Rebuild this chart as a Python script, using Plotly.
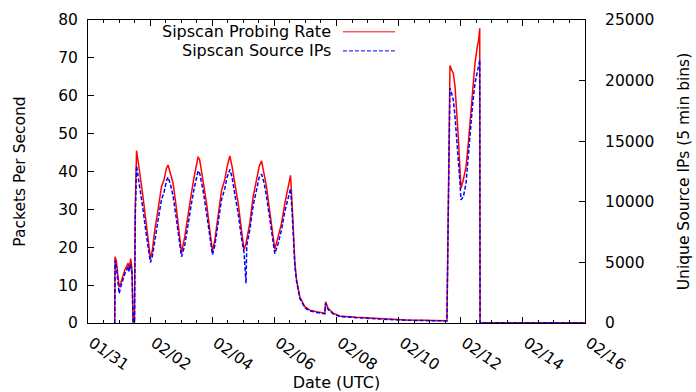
import plotly.graph_objects as go

times = [
    "2011-01-31 20:40", "2011-01-31 20:55", "2011-01-31 21:50", "2011-01-31 23:00",
    "2011-02-01 00:05", "2011-02-01 01:15", "2011-02-01 02:50", "2011-02-01 04:25",
    "2011-02-01 05:55", "2011-02-01 06:55", "2011-02-01 07:50", "2011-02-01 09:00",
    "2011-02-01 10:00", "2011-02-01 10:50", "2011-02-01 11:55", "2011-02-01 12:30",
    "2011-02-01 13:30", "2011-02-01 14:40", "2011-02-01 16:00", "2011-02-01 18:30",
    "2011-02-01 21:10", "2011-02-01 22:55", "2011-02-02 00:15", "2011-02-02 01:40",
    "2011-02-02 03:35", "2011-02-02 06:05", "2011-02-02 08:45", "2011-02-02 10:45",
    "2011-02-02 12:35", "2011-02-02 13:50", "2011-02-02 15:45", "2011-02-02 17:45",
    "2011-02-02 19:50", "2011-02-02 22:10", "2011-02-03 00:15", "2011-02-03 02:45",
    "2011-02-03 05:20", "2011-02-03 07:55", "2011-02-03 10:00", "2011-02-03 11:50",
    "2011-02-03 13:05", "2011-02-03 14:20", "2011-02-03 16:55", "2011-02-03 19:35",
    "2011-02-03 22:05", "2011-02-04 00:10", "2011-02-04 02:00", "2011-02-04 04:30",
    "2011-02-04 07:10", "2011-02-04 09:40", "2011-02-04 11:30", "2011-02-04 13:35",
    "2011-02-04 15:20", "2011-02-04 17:25", "2011-02-04 20:00", "2011-02-04 22:35",
    "2011-02-05 00:35", "2011-02-05 02:05", "2011-02-05 02:40", "2011-02-05 05:00",
    "2011-02-05 07:35", "2011-02-05 10:10", "2011-02-05 12:15", "2011-02-05 14:05",
    "2011-02-05 16:05", "2011-02-05 17:55", "2011-02-05 19:55", "2011-02-05 22:35",
    "2011-02-06 00:20", "2011-02-06 02:55", "2011-02-06 05:30", "2011-02-06 08:05",
    "2011-02-06 10:40", "2011-02-06 12:30", "2011-02-06 13:55", "2011-02-06 15:50",
    "2011-02-06 17:10", "2011-02-06 19:40", "2011-02-06 23:30", "2011-02-07 03:25",
    "2011-02-07 08:35", "2011-02-07 15:00", "2011-02-07 15:35", "2011-02-07 17:30",
    "2011-02-07 21:25", "2011-02-08 02:35", "2011-02-08 15:30", "2011-02-09 04:20",
    "2011-02-09 17:15", "2011-02-10 06:10", "2011-02-10 19:00", "2011-02-11 13:20",
    "2011-02-11 14:20", "2011-02-11 15:40", "2011-02-11 17:00", "2011-02-11 18:15",
    "2011-02-11 19:35", "2011-02-11 20:50", "2011-02-11 22:05", "2011-02-11 23:25",
    "2011-02-12 00:10", "2011-02-12 02:00", "2011-02-12 04:05", "2011-02-12 05:50",
    "2011-02-12 07:40", "2011-02-12 09:15", "2011-02-12 11:00", "2011-02-12 12:45",
    "2011-02-12 13:50", "2011-02-12 14:40", "2011-02-12 14:55", "2011-02-16 00:00",
]

probing_rate = [  # packets per second
    0, 17.5, 16.5, 12, 9.5, 10.5, 12.5, 14, 15, 15.8, 14.5, 17,
    14, 0.3, 0.3, 30, 45.5, 43, 39.6, 33.3, 25.4, 20, 17, 19,
    24.5, 29.8, 36, 37.8, 40.8, 41.7, 39.6, 36.9, 31.6, 24.5, 18.5, 22.8,
    29, 34.3, 38.6, 42.2, 43.9, 43, 37.8, 31.7, 24.5, 19, 21.9, 28,
    35, 37.8, 41.3, 44.1, 41.3, 36.9, 31.7, 24.5, 19.3, 21, 22, 26.3,
    33.3, 37.8, 41.3, 42.8, 39.5, 36, 30.7, 23.7, 19.5, 22.8, 26.3, 31.6,
    36, 39, 30, 15.8, 11.4, 6.9, 4.3, 3.4, 3.0, 2.6, 5.6, 3.9,
    2.6, 1.85, 1.5, 1.23, 0.97, 0.79, 0.7, 0.6, 29, 68, 66.8, 65.9,
    62.4, 56.2, 49.2, 40.4, 35.6, 37.8, 41.3, 47.4, 55.4, 62.4, 68.6, 72.9,
    74.7, 77.8, 0.1, 0.05,
]

source_ips = [  # unique source IPs per 5-min bin
    0, 5160, 4690, 3440, 2440, 2970, 3590, 4060, 4380, 4690, 4220, 4840,
    4060, 90, 90, 8750, 12970, 12190, 11250, 9380, 7190, 5780, 5000, 5470,
    6880, 8440, 10160, 10780, 11720, 12030, 11410, 10470, 8910, 7030, 5470, 6410,
    8280, 9840, 11090, 12030, 12560, 12340, 10940, 9060, 7030, 5630, 6410, 8130,
    10160, 11090, 12030, 12660, 12030, 10630, 9060, 7030, 5780, 3280, 6410, 7660,
    9690, 10940, 12030, 12280, 11560, 10470, 8910, 6880, 5720, 6560, 7660, 9220,
    10470, 11090, 8750, 4690, 3440, 2030, 1250, 1000, 875, 750, 1625, 1125,
    750, 530, 440, 340, 280, 225, 200, 170, 8750, 19380, 18940, 18410,
    17030, 15380, 13440, 11530, 10160, 10410, 11530, 14000, 16190, 18130, 19780, 20880,
    21250, 21690, 30, 15,
]

series_names = ["Sipscan Probing Rate", "Sipscan Source IPs"]
x_range = ["2011-01-31", "2011-02-16"]
y_left_range = [0, 80]
y_right_range = [0, 25000]

FONT = "DejaVu Sans, Liberation Sans, Arial, sans-serif"
RED = "#ff0000"
BLUE = "#0000ff"
BLUE_DASH = "4px,2px"

fig = go.Figure()
fig.add_trace(go.Scatter(
    x=times, y=probing_rate, mode="lines", name=series_names[0],
    line=dict(color=RED, width=1.5), yaxis="y", showlegend=False,
))
fig.add_trace(go.Scatter(
    x=times, y=source_ips, mode="lines", name=series_names[1],
    line=dict(color=BLUE, width=1.5, dash=BLUE_DASH), yaxis="y2", showlegend=False,
))

# gnuplot-style key: right-aligned text with line sample to the right
key_rows = [0.961, 0.898]
key_styles = [dict(color=RED, width=1), dict(color=BLUE, width=1, dash=BLUE_DASH)]
key_font = dict(family=FONT, size=16, color="black")
for name, yk, st in zip(series_names, key_rows, key_styles):
    fig.add_annotation(
        x=0.491, y=yk, xref="paper", yref="paper", text=name, showarrow=False,
        xanchor="right", yanchor="middle", font=key_font, borderpad=0,
    )
    fig.add_shape(
        type="line", xref="paper", yref="paper", x0=0.513, x1=0.618, y0=yk, y1=yk,
        line=st,
    )

tick_font = dict(family=FONT, size=15.5, color="black")
title_font = dict(family=FONT, size=15.5, color="black")
fig.update_layout(
    width=696, height=392,
    margin=dict(l=88, r=111, t=20, b=69),
    paper_bgcolor="white", plot_bgcolor="white",
    font=tick_font,
    xaxis=dict(
        range=x_range, type="date", dtick=2 * 86400000, tick0="2011-01-31",
        tickformat="%m/%d", tickangle=35, ticks="inside", ticklen=6,
        tickcolor="black", showline=True, linecolor="black", linewidth=1,
        mirror="ticks", showgrid=False, zeroline=False, automargin=False,
        ticklabelstandoff=4, ticklabelshift=4,
        minor=dict(dtick=43200000, ticks="inside", ticklen=3, tickcolor="black", showgrid=False),
        title=dict(text="Date (UTC)", font=dict(family=FONT, size=16, color="black"), standoff=3),
        tickfont=tick_font,
    ),
    yaxis=dict(
        range=y_left_range, dtick=10, ticks="inside", ticklen=6, tickcolor="black",
        showline=True, linecolor="black", linewidth=1, mirror=True,
        showgrid=False, zeroline=False, tickfont=tick_font, automargin=False,
        ticklabelstandoff=6,
        title=dict(text="Packets Per Second", font=title_font, standoff=28),
    ),
    yaxis2=dict(
        range=y_right_range, dtick=5000, tickformat="d", overlaying="y", side="right",
        ticks="inside", ticklen=6, tickcolor="black", showline=True,
        linecolor="black", linewidth=1, showgrid=False, zeroline=False,
        tickfont=tick_font, ticklabelstandoff=16, automargin=False,
        title=dict(text="Unique Source IPs (5 min bins)", font=title_font, standoff=24),
    ),
)

fig.write_html("out.html")
